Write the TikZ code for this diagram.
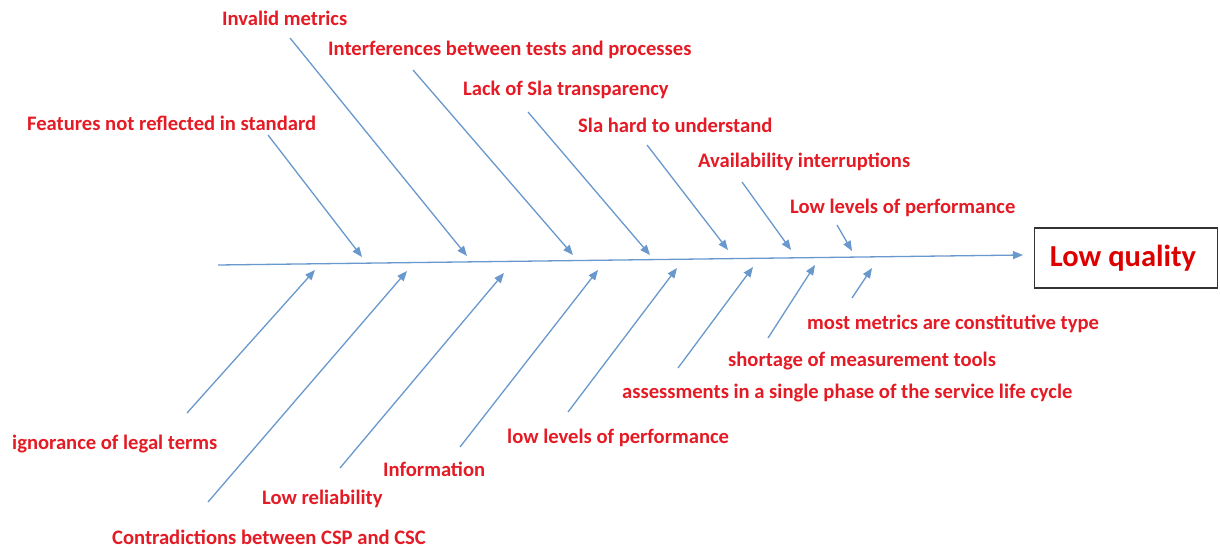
\documentclass[tikz,border=0pt]{standalone}
\usepackage{fontspec}
\setmainfont{Carlito}
\usetikzlibrary{arrows.meta}
\definecolor{bonecol}{RGB}{104,152,204}
\definecolor{labelred}{RGB}{228,26,36}
\definecolor{headred}{RGB}{220,0,0}
\begin{document}
\begin{tikzpicture}[x=1pt,y=-1pt,
    bone/.style={bonecol,line width=1.3pt,-{Triangle[length=10pt,width=8pt]}},
    lbl/.style={labelred,font=\fontsize{20.6}{24}\selectfont\bfseries,anchor=base west,inner sep=0pt},
    headbox/.style={draw=black!80,line width=1.2pt,minimum width=183pt,minimum height=60pt,
      text=headred,font=\fontsize{30.5}{34}\selectfont\bfseries}]
     		\useasboundingbox (0,0) rectangle (1220,548);
     		% spine and head
     		\coordinate (tail) at (218,265);
     		\coordinate (mouth) at (1023,255);
     		\draw[bone] (tail)--(mouth);
     		\node[headbox] (head) at (1126,258) {Low quality\hspace*{6pt}};
     		% upper causes
     		\node[lbl] (feat) at (27,131) {Features not reflected in standard};
     		\node[lbl] (inval) at (222,26) {Invalid metrics};
     		\node[lbl] (interf) at (328,56) {Interferences between tests and processes};
     		\node[lbl] (lack) at (463,96) {Lack of Sla transparency};
     		\node[lbl] (hard) at (578,133) {Sla hard to understand};
     		\node[lbl] (avail) at (698,168) {Availability interruptions};
     		\node[lbl] (lowup) at (790,213) {Low levels of performance};
     		\foreach \n/\sx/\sy/\tx/\ty in {f/268/135/362/257, i/290/38/467/256,
     		  n/413/70/573/255, k/528/112/650/255, h/647/145/728/250,
     		  a/742/182/791/250, p/837/225/852/251}{
     		\coordinate (u\n s) at (\sx,\sy);
     		\coordinate (u\n t) at (\tx,\ty);
     		\draw[bone] (u\n s)--(u\n t);
     		}
     		% lower causes
     		\node[lbl] (ignor) at (12,449) {ignorance of legal terms};
     		\node[lbl] (contra) at (112,544) {Contradictions between CSP and CSC};
     		\node[lbl] (relia) at (262,504) {Low reliability};
     		\node[lbl] (info) at (383,476) {Information};
     		\node[lbl] (lowdn) at (507,443) {low levels of performance};
     		\node[lbl] (assess) at (622,398) {assessments in a single phase of the service life cycle};
     		\node[lbl] (short) at (728,366) {shortage of measurement tools};
     		\node[lbl] (most) at (807,329) {most metrics are constitutive type};
     		\foreach \n/\sx/\sy/\tx/\ty in {g/187/413/315/270, c/208/502/407/271,
     		  l/340/468/504/273, o/460/447/598/270, p/568/412/677/268,
     		  a/678/368/753/267, h/768/338/815/265, m/852/298/872/268}{
     		\coordinate (d\n s) at (\sx,\sy);
     		\coordinate (d\n t) at (\tx,\ty);
     		\draw[bone] (d\n s)--(d\n t);
     		}
\end{tikzpicture}
\end{document}
